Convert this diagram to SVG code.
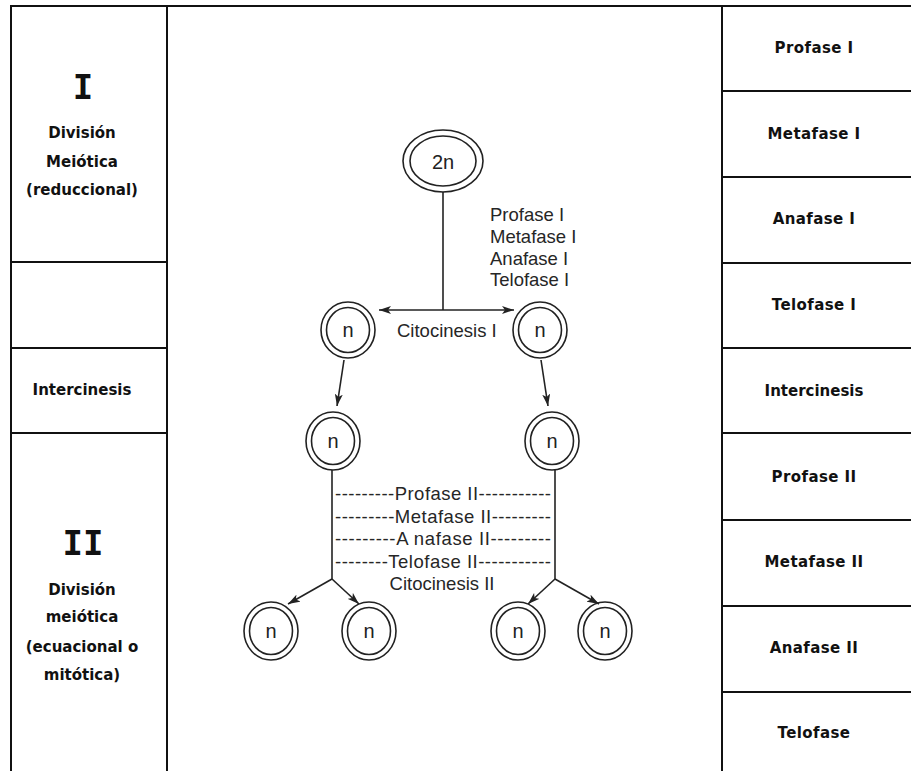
<svg xmlns="http://www.w3.org/2000/svg" width="911" height="771" viewBox="0 0 911 771">
  <style>
    .frame { stroke: #111; stroke-width: 2; fill: none; }
    .label { font-family: "DejaVu Sans", "Liberation Sans", sans-serif; font-weight: bold; font-size: 15px; fill: #111; text-anchor: middle; }
    .phase { letter-spacing: 0.4px; }
    .roman { font-family: "DejaVu Sans Mono", "Liberation Mono", monospace; font-weight: bold; font-size: 34px; fill: #111; text-anchor: middle; }
    .cell { stroke: #222; stroke-width: 1.6; fill: none; }
    .cell-text { font-family: "Liberation Sans", Arial, sans-serif; font-size: 20px; fill: #222; text-anchor: middle; }
    .step { font-family: "Liberation Sans", Arial, sans-serif; font-size: 18.5px; fill: #262626; }
    .edge { stroke: #222; stroke-width: 1.6; fill: none; }
  </style>
  <defs>
    <marker id="arrow" viewBox="0 0 12 8" refX="12" refY="4" markerWidth="12" markerHeight="8" markerUnits="userSpaceOnUse" orient="auto">
      <path d="M0,0 L12,4 L0,8 L3,4 Z" fill="#222"/>
    </marker>
  </defs>

  <rect width="911" height="771" fill="#fff"/>

  <!-- table frame -->
  <g id="table">
    <line class="frame" x1="10" y1="6" x2="911" y2="6"/>
    <line class="frame" x1="11" y1="6" x2="11" y2="771"/>
    <line class="frame" x1="167" y1="6" x2="167" y2="771"/>
    <line class="frame" x1="722" y1="6" x2="722" y2="771"/>
    <!-- left column rows -->
    <line class="frame" x1="11" y1="262" x2="167" y2="262"/>
    <line class="frame" x1="11" y1="348" x2="167" y2="348"/>
    <line class="frame" x1="11" y1="433" x2="167" y2="433"/>
    <!-- right column rows -->
    <line class="frame" x1="722" y1="91" x2="911" y2="91"/>
    <line class="frame" x1="722" y1="177" x2="911" y2="177"/>
    <line class="frame" x1="722" y1="263" x2="911" y2="263"/>
    <line class="frame" x1="722" y1="348" x2="911" y2="348"/>
    <line class="frame" x1="722" y1="433" x2="911" y2="433"/>
    <line class="frame" x1="722" y1="520" x2="911" y2="520"/>
    <line class="frame" x1="722" y1="606" x2="911" y2="606"/>
    <line class="frame" x1="722" y1="692" x2="911" y2="692"/>
  </g>

  <!-- left column labels -->
  <g id="division-1">
    <text class="roman" x="83" y="99">I</text>
    <text class="label" x="82" y="138">División</text>
    <text class="label" x="82" y="167">Meiótica</text>
    <text class="label" x="82" y="195">(reduccional)</text>
  </g>
  <g id="intercinesis-left">
    <text class="label" x="82" y="395">Intercinesis</text>
  </g>
  <g id="division-2">
    <text class="roman" x="83" y="555">II</text>
    <text class="label" x="82" y="595">División</text>
    <text class="label" x="82" y="622">meiótica</text>
    <text class="label" x="82" y="652">(ecuacional o</text>
    <text class="label" x="82" y="680">mitótica)</text>
  </g>

  <!-- right column phases -->
  <g id="phases">
    <text class="label phase" x="814" y="53">Profase I</text>
    <text class="label phase" x="814" y="139">Metafase I</text>
    <text class="label phase" x="814" y="224">Anafase I</text>
    <text class="label phase" x="814" y="310">Telofase I</text>
    <text class="label" x="814" y="396">Intercinesis</text>
    <text class="label phase" x="814" y="482">Profase II</text>
    <text class="label phase" x="814" y="567">Metafase II</text>
    <text class="label phase" x="814" y="653">Anafase II</text>
    <text class="label phase" x="814" y="738">Telofase</text>
  </g>

  <!-- connectors -->
  <g id="connectors">
    <line class="edge" x1="443" y1="192" x2="443" y2="310"/>
    <line class="edge" x1="443" y1="310" x2="379" y2="310" marker-end="url(#arrow)"/>
    <line class="edge" x1="443" y1="310" x2="514" y2="310" marker-end="url(#arrow)"/>
    <line class="edge" x1="344" y1="360" x2="337" y2="406" marker-end="url(#arrow)"/>
    <line class="edge" x1="541" y1="360" x2="548" y2="406" marker-end="url(#arrow)"/>
    <line class="edge" x1="332" y1="470" x2="332" y2="579"/>
    <line class="edge" x1="555" y1="470" x2="555" y2="579"/>
    <line class="edge" x1="332" y1="579" x2="288" y2="604" marker-end="url(#arrow)"/>
    <line class="edge" x1="332" y1="579" x2="359" y2="604" marker-end="url(#arrow)"/>
    <line class="edge" x1="555" y1="579" x2="528" y2="604" marker-end="url(#arrow)"/>
    <line class="edge" x1="555" y1="579" x2="599" y2="604" marker-end="url(#arrow)"/>
  </g>

  <!-- stage annotations -->
  <g id="meiosis-1-steps">
    <text class="step" x="490" y="221">Profase I</text>
    <text class="step" x="490" y="243">Metafase I</text>
    <text class="step" x="490" y="265">Anafase I</text>
    <text class="step" x="490" y="286">Telofase I</text>
    <text class="step" x="397" y="337">Citocinesis I</text>
  </g>
  <g id="meiosis-2-steps">
    <text class="step" x="335" y="500" textLength="216" lengthAdjust="spacing">---------Profase II-----------</text>
    <text class="step" x="335" y="523" textLength="216" lengthAdjust="spacing">---------Metafase II---------</text>
    <text class="step" x="335" y="545" textLength="216" lengthAdjust="spacing">---------A nafase II---------</text>
    <text class="step" x="335" y="568" textLength="216" lengthAdjust="spacing">--------Telofase II-----------</text>
    <text class="step" x="442" y="590" text-anchor="middle">Citocinesis II</text>
  </g>

  <!-- cells -->
  <g id="cell-2n">
    <ellipse class="cell" cx="443" cy="161" rx="40" ry="31"/>
    <ellipse class="cell" cx="443" cy="161" rx="33" ry="25"/>
    <text class="cell-text" x="443" y="169" font-size="21">2n</text>
  </g>
  <g id="cell-n-1a">
    <ellipse class="cell" cx="348" cy="330" rx="27" ry="28"/>
    <ellipse class="cell" cx="348" cy="330" rx="21.5" ry="22.5"/>
    <text class="cell-text" x="348" y="337">n</text>
  </g>
  <g id="cell-n-1b">
    <ellipse class="cell" cx="540" cy="330" rx="27" ry="28"/>
    <ellipse class="cell" cx="540" cy="330" rx="21.5" ry="22.5"/>
    <text class="cell-text" x="540" y="337">n</text>
  </g>
  <g id="cell-n-2a">
    <ellipse class="cell" cx="333" cy="441" rx="27" ry="29"/>
    <ellipse class="cell" cx="333" cy="441" rx="21.5" ry="23.5"/>
    <text class="cell-text" x="333" y="448">n</text>
  </g>
  <g id="cell-n-2b">
    <ellipse class="cell" cx="552" cy="441" rx="27" ry="29"/>
    <ellipse class="cell" cx="552" cy="441" rx="21.5" ry="23.5"/>
    <text class="cell-text" x="552" y="448">n</text>
  </g>
  <g id="cell-n-3a">
    <ellipse class="cell" cx="271" cy="631" rx="27" ry="29"/>
    <ellipse class="cell" cx="271" cy="631" rx="21.5" ry="23.5"/>
    <text class="cell-text" x="271" y="638">n</text>
  </g>
  <g id="cell-n-3b">
    <ellipse class="cell" cx="369" cy="631" rx="27" ry="29"/>
    <ellipse class="cell" cx="369" cy="631" rx="21.5" ry="23.5"/>
    <text class="cell-text" x="369" y="638">n</text>
  </g>
  <g id="cell-n-3c">
    <ellipse class="cell" cx="518" cy="631" rx="27" ry="29"/>
    <ellipse class="cell" cx="518" cy="631" rx="21.5" ry="23.5"/>
    <text class="cell-text" x="518" y="638">n</text>
  </g>
  <g id="cell-n-3d">
    <ellipse class="cell" cx="605" cy="631" rx="27" ry="29"/>
    <ellipse class="cell" cx="605" cy="631" rx="21.5" ry="23.5"/>
    <text class="cell-text" x="605" y="638">n</text>
  </g>
</svg>
